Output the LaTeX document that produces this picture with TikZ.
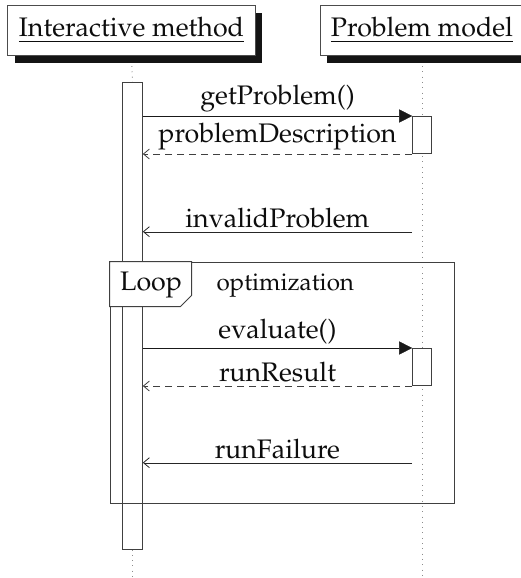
\documentclass[tikz,border=0pt]{standalone}
\usepackage[T1]{fontenc}
\usepackage{mathpazo}
\usetikzlibrary{arrows.meta,shadows,calc}
\pgfdeclarelayer{bg}
\pgfsetlayers{bg,main}

\begin{document}
\begin{tikzpicture}[x=1pt,y=-1pt,line width=1.2pt,
  every node/.style={font=\fontsize{26.8}{32}\selectfont,text=black!95},
  header/.style={draw=black!70,line width=0.9pt,fill=white,minimum height=50pt,
    inner xsep=11pt,inner ysep=0pt,
    drop shadow={shadow xshift=7pt,shadow yshift=-8pt,opacity=1,fill=black!92}},
  actbox/.style={draw=black!75,line width=1pt,fill=white,inner sep=0pt,minimum width=19pt},
  lifeline/.style={draw=black!45,line width=0.9pt,dash pattern=on 0.9pt off 4.4pt},
  call/.style={draw=black!90,-{Triangle[length=13pt,width=13pt]}},
  reply/.style={draw=black!75,dash pattern=on 7pt off 5pt,-{Straight Barb[length=6pt,width=10pt,line width=0.8pt]}},
  signal/.style={draw=black!85,-{Straight Barb[length=6pt,width=10pt,line width=0.8pt]}},
  msg/.style={midway,above},
  frame/.style={draw=black!75,line width=1pt}]

\useasboundingbox (0,0) rectangle (520,578);

% instances
\node[header] (hA) at (131.5,30) {\underline{Interactive method}};
\node[header] (hB) at (422,30) {\underline{Problem model}};

% activation bars
\node[actbox,minimum width=19.6pt,minimum height=466.3pt] (actA) at (132.5,315.85) {};
\node[actbox,minimum width=18.6pt,minimum height=37pt] (actB1) at (422,135) {};
\node[actbox,minimum width=18.6pt,minimum height=37pt] (actB2) at (422,367) {};

% lifeline ends
\coordinate (endA) at (132.5,578);
\coordinate (endB) at (422,578);
\begin{pgfonlayer}{bg}
  \draw[lifeline] (hA.south) -- (actA.north);
  \draw[lifeline] (actA.south) -- (endA);
  \draw[lifeline] (hB.south) -- (endB);
\end{pgfonlayer}

% first exchange
\draw[call] (actA.east |- actB1.north) -- node[msg] {getProblem()} (actB1.north west);
\draw[reply] (actB1.south west) -- node[msg] {problemDescription} (actA.east |- actB1.south);
\coordinate (invStart) at (412,231.7);
\draw[signal] (invStart) -- node[msg] {invalidProblem} (actA.east |- invStart);

% loop fragment
\node[frame,minimum width=344pt,minimum height=241pt,inner sep=0pt] (loopbox) at (282,382.5) {};
\draw[frame,fill=white] (loopbox.north west) -- ++(82,0) -- ++(0,34) -- ++(-11,11)
  -- ($(loopbox.north west)+(0,45)$) -- cycle;
\node[anchor=base] (looptag) at (151,290) {Loop};
\node[anchor=base west,font=\fontsize{24.2}{29}\selectfont] (loopname) at (213,290) {optimization};

% second exchange
\draw[call] (actA.east |- actB2.north) -- node[msg] {evaluate()} (actB2.north west);
\draw[reply] (actB2.south west) -- node[msg] {runResult} (actA.east |- actB2.south);
\coordinate (failStart) at (412,462.7);
\draw[signal] (failStart) -- node[msg] {runFailure} (actA.east |- failStart);

\end{tikzpicture}
\end{document}
